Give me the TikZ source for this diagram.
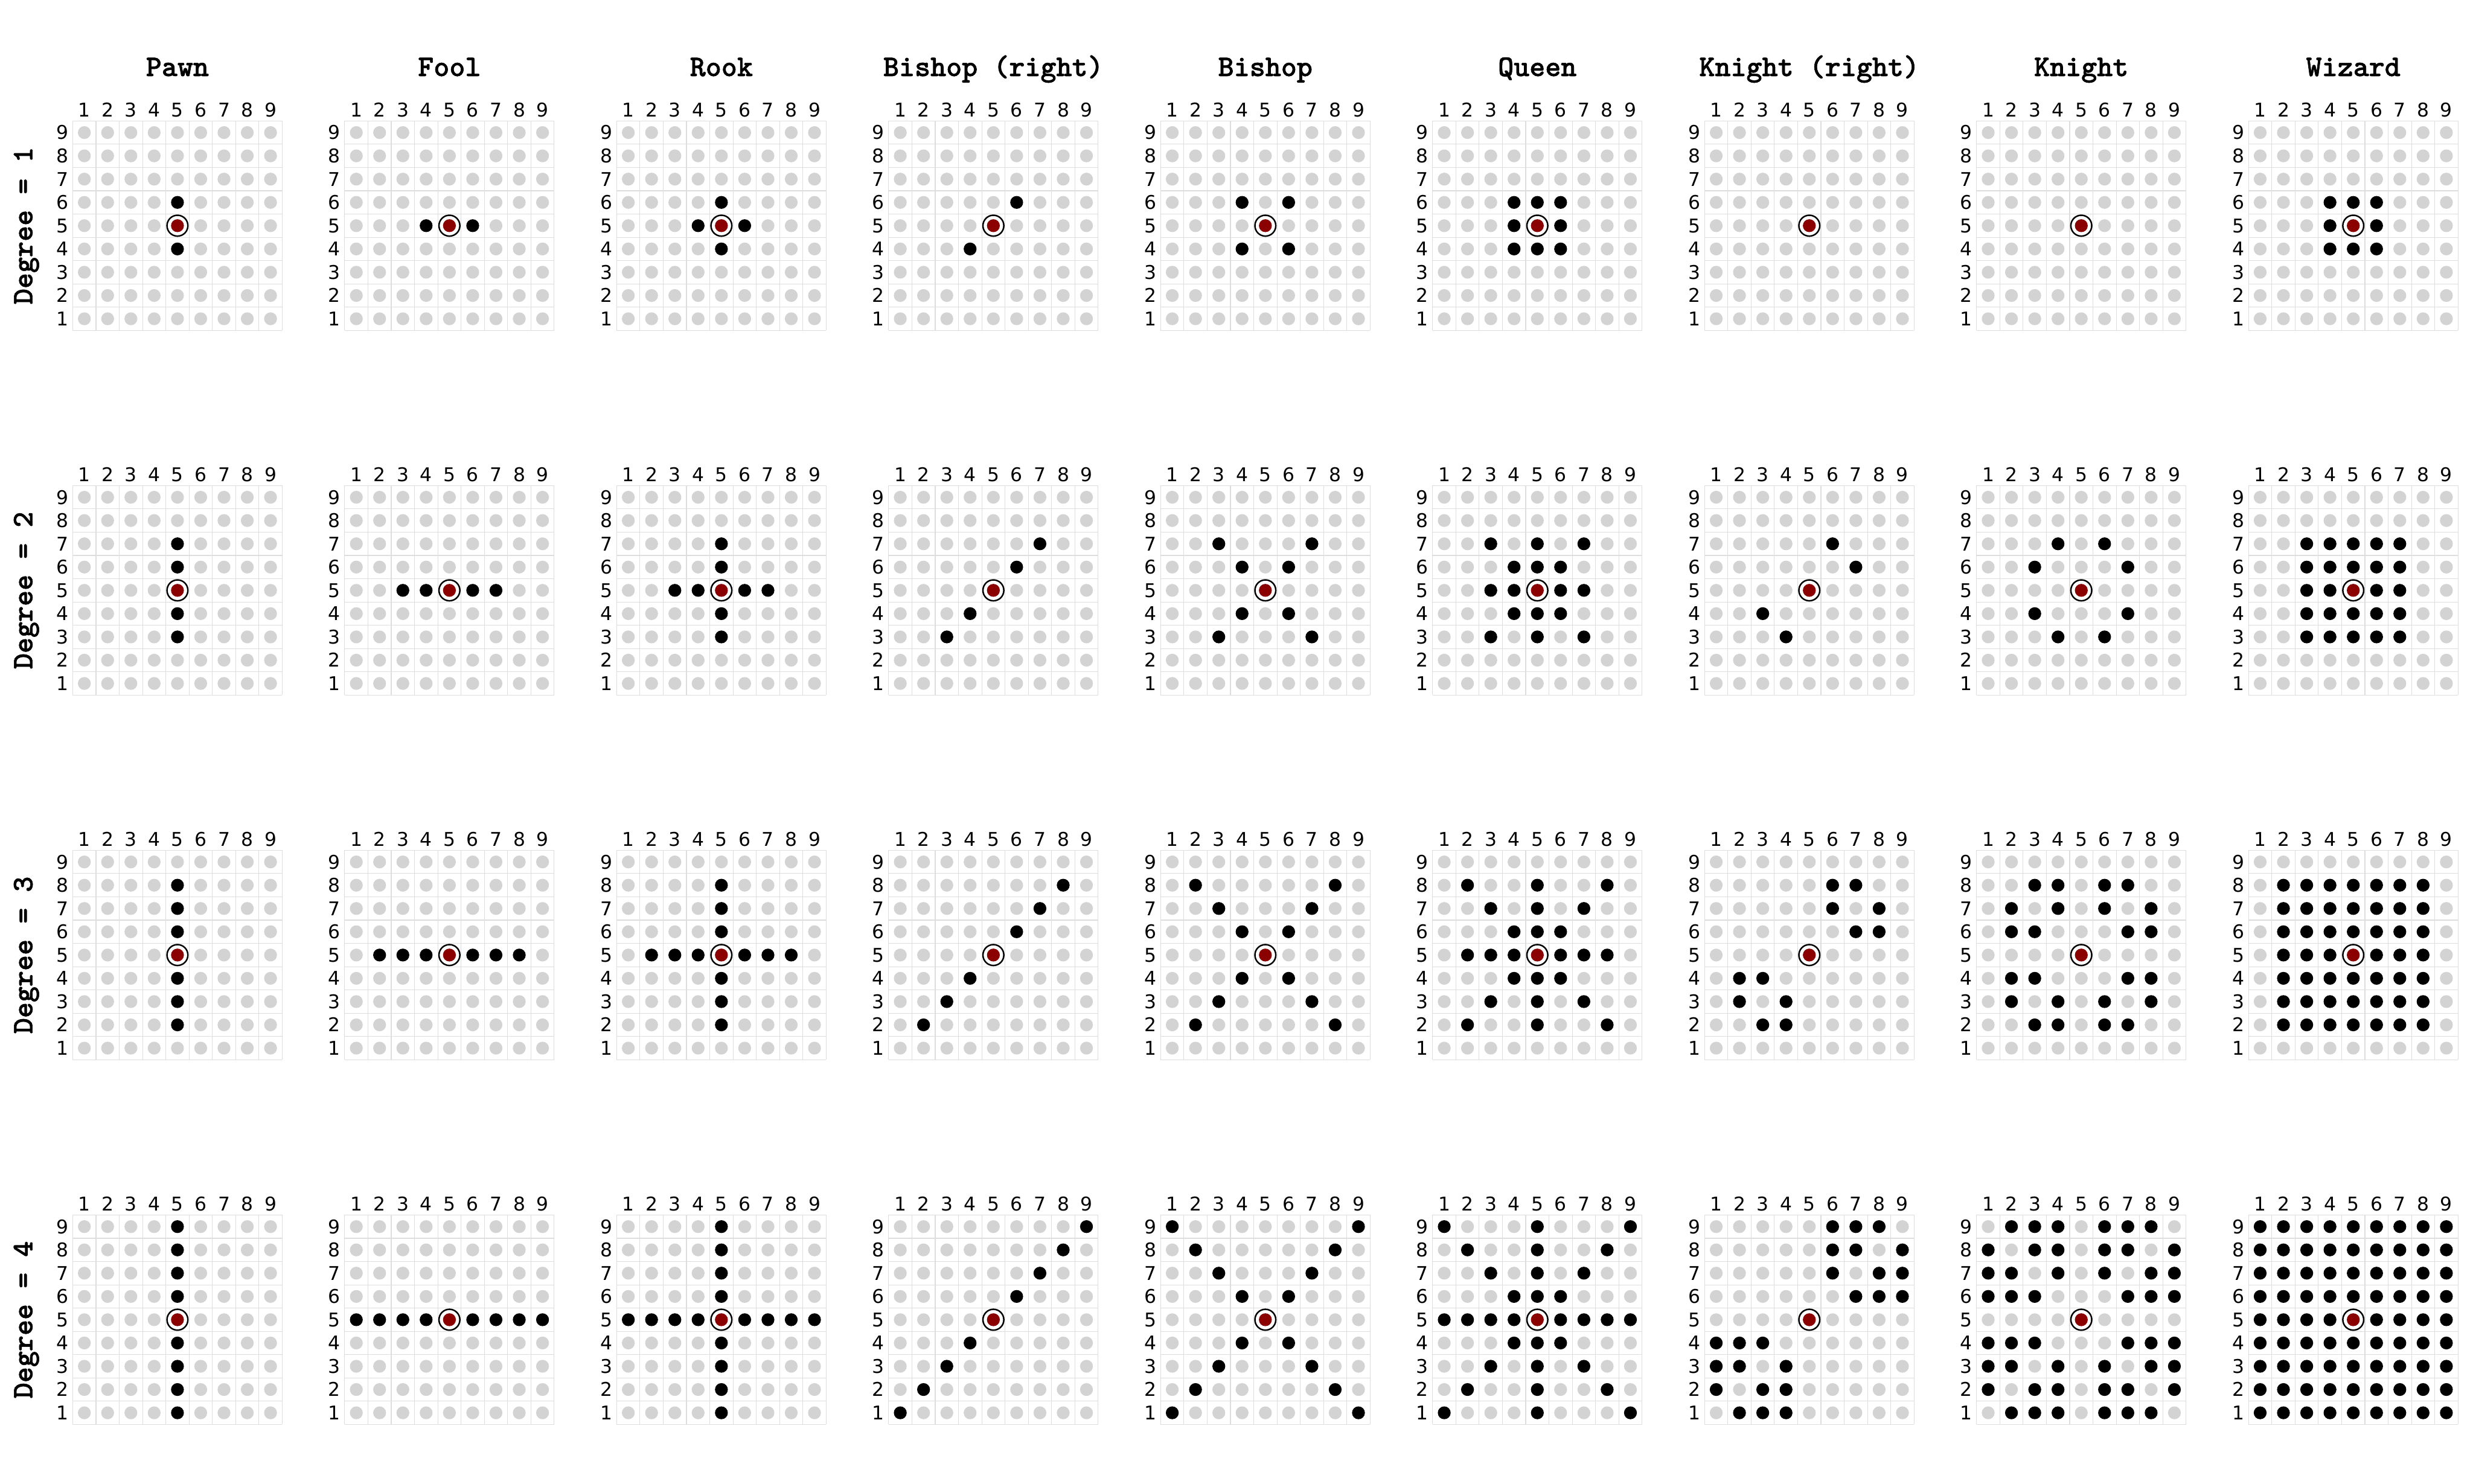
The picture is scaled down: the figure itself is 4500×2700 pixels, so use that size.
\documentclass[tikz,border=0pt]{standalone}
\usepackage{fontspec}
\newfontfamily\digitfont{DejaVu Sans}
\newfontfamily\titlefont{lmmonolt10-bold.otf}[FakeBold=1.2]
\definecolor{gridgray}{HTML}{DDDDDD}
\definecolor{dotgray}{HTML}{D3D3D3}
\definecolor{homered}{HTML}{8B0000}

\begin{document}
\begin{tikzpicture}[x=0.01cm,y=0.01cm,
  cellline/.style={draw=gridgray,line width=0.12mm},
  offdot/.style={fill=dotgray},
  ondot/.style={fill=black},
  homedot/.style={fill=homered},
  homering/.style={draw=black,line width=0.27mm},
  piecetitle/.style={font=\titlefont\fontsize{15.5}{18}\selectfont,inner sep=0pt,anchor=base},
  degreelabel/.style={font=\titlefont\fontsize{15.5}{18}\selectfont,inner sep=0pt,rotate=90,anchor=base},
  axislabel/.style={font=\digitfont\fontsize{9.8}{12}\selectfont,inner sep=0pt}]
\useasboundingbox (0,0) rectangle (4500,2700);
\foreach \piece [count=\i from 0] in {Pawn,Fool,Rook,{Bishop (right)},Bishop,Queen,{Knight (right)},Knight,Wizard} {
  \ifcase\i \def\movecond{\dx==0}%
  \or \def\movecond{\dy==0}%
  \or \def\movecond{or(\dx==0,\dy==0)}%
  \or \def\movecond{\dx==\dy}%
  \or \def\movecond{abs(\dx)==abs(\dy)}%
  \or \def\movecond{or(or(\dx==0,\dy==0),abs(\dx)==abs(\dy))}%
  \or \def\movecond{and((\dx)*(\dy)>0,abs(\dx)!=abs(\dy))}%
  \or \def\movecond{and((\dx)*(\dy)!=0,abs(\dx)!=abs(\dy))}%
  \or \def\movecond{1}%
  \fi
  \foreach \j in {0,...,3} {
    \pgfmathsetmacro\gx{132.3+494.9*\i}
    \pgfmathsetmacro\gy{2098.7-663.6*\j}
    \pgfmathtruncatemacro\deg{\j+1}
    \begin{scope}[shift={(\gx,\gy)},x=0.4233cm,y=0.4233cm]
      \foreach \t in {0,...,9} {
        \draw[cellline] (\t,0) -- (\t,9);
        \draw[cellline] (0,\t) -- (9,\t);
      }
      \foreach \c in {1,...,9}
        \foreach \r in {1,...,9} {
          \pgfmathtruncatemacro\dx{\c-5}
          \pgfmathtruncatemacro\dy{\r-5}
          \pgfmathtruncatemacro\on{and(and(max(abs(\dx),abs(\dy))<=\deg,abs(\dx)+abs(\dy)>0),\movecond)}
          \ifnum\on=1
            \fill[ondot] (\c-0.5,\r-0.5) circle[radius=1.17mm];
          \else
            \fill[offdot] (\c-0.5,\r-0.5) circle[radius=1.17mm];
          \fi
        }
      \fill[homedot] (4.5,4.5) circle[radius=1.17mm];
      \draw[homering] (4.5,4.5) circle[radius=1.9mm];
      \foreach \c in {1,...,9}
        \node[axislabel,anchor=base] (col-\i-\j-\c) at (\c-0.5,9.189) {\c};
      \foreach \r in {1,...,9}
        \node[axislabel,anchor=base east] (row-\i-\j-\r) at (-0.165,\r-0.795) {\r};
      \ifnum\j=0
        \node[piecetitle] (title-\i) at (4.5,10.928) {\piece};
      \fi
      \ifnum\i=0
        \node[degreelabel] (degree-\j) at (-1.7316,4.5) {Degree = \deg};
      \fi
    \end{scope}
  }
}
\end{tikzpicture}
\end{document}
